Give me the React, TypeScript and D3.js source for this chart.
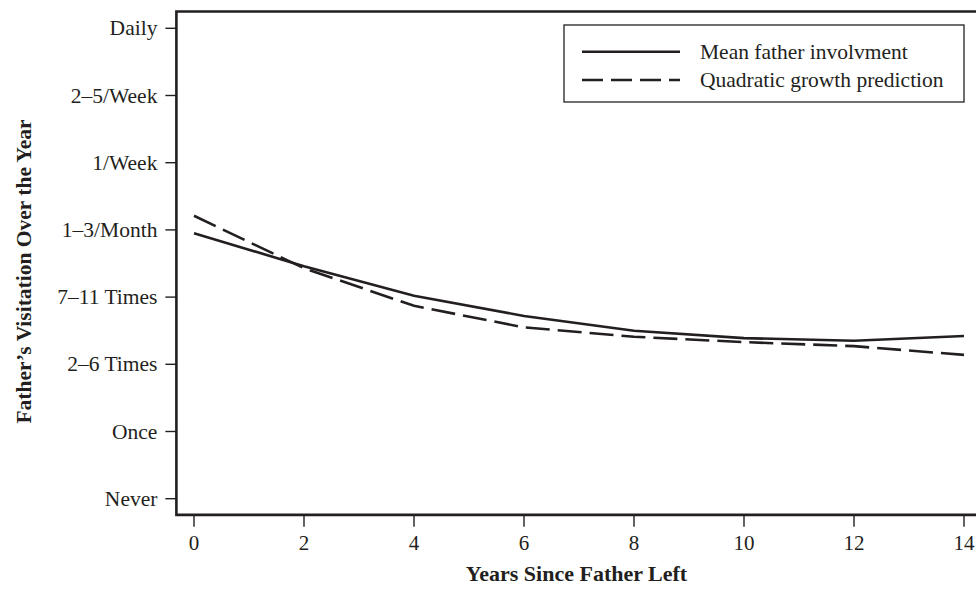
import React from "react";
import * as d3 from "d3";

// frequency categories, Never = 0 ... Daily = 7
const visitLabels = [
  "Never",
  "Once",
  "2–6 Times",
  "7–11 Times",
  "1–3/Month",
  "1/Week",
  "2–5/Week",
  "Daily",
];
const years = [0, 2, 4, 6, 8, 10, 12, 14];
const meanInvolvement = [3.95, 3.46, 3.02, 2.72, 2.5, 2.39, 2.35, 2.42];
const quadraticPrediction = [4.21, 3.43, 2.87, 2.55, 2.41, 2.33, 2.27, 2.14];
const xTicks = [0, 2, 4, 6, 8, 10, 12, 14];

const WIDTH = 976;
const HEIGHT = 589;
const INK = "#231f20";
const FONT = "'Liberation Serif', 'Times New Roman', serif";

export default function App() {
  const xScale = d3.scaleLinear().domain([0, 14]).range([194, 964]);
  const yScale = d3.scaleLinear().domain([0, 7]).range([498.7, 28.3]);

  const frameLeft = xScale(-0.32);
  const frameRight = xScale(14.6);
  const frameTop = yScale(7.25);
  const frameBottom = yScale(-0.24);

  const line = d3
    .line<number>()
    .x((_, i) => xScale(years[i]))
    .y((d) => yScale(d));

  const legendX = 564;
  const legendY = 25;
  const legendW = 400;
  const legendH = 77;
  const rows = [
    { label: "Mean father involvment", dash: undefined as string | undefined },
    { label: "Quadratic growth prediction", dash: "21 8" },
  ];

  return (
    <svg
      width={WIDTH}
      height={HEIGHT}
      style={{ position: "absolute", left: 0, top: 0, background: "#fff" }}
      fontFamily={FONT}
    >
      {/* frame */}
      <path
        d={`M${frameRight},${frameTop}H${frameLeft}V${frameBottom}H${frameRight}`}
        fill="none"
        stroke={INK}
        strokeWidth={2.6}
      />

      {/* y ticks */}
      {visitLabels.map((lab, i) => (
        <g key={lab} transform={`translate(0,${yScale(i)})`}>
          <line x1={frameLeft - 11} x2={frameLeft} stroke={INK} strokeWidth={1.4} />
          <text
            x={frameLeft - 19}
            dy="0.33em"
            textAnchor="end"
            fontSize={21.5}
            fill={INK}
          >
            {lab}
          </text>
        </g>
      ))}

      {/* x ticks */}
      {xTicks.map((t) => (
        <g key={t} transform={`translate(${xScale(t)},0)`}>
          <line y1={frameBottom} y2={frameBottom + 12} stroke={INK} strokeWidth={1.4} />
          <text y={549.5} textAnchor="middle" fontSize={21} fill={INK}>
            {t}
          </text>
        </g>
      ))}

      {/* series */}
      <path
        d={line(meanInvolvement) || ""}
        fill="none"
        stroke={INK}
        strokeWidth={2.6}
      />
      <path
        d={line(quadraticPrediction) || ""}
        fill="none"
        stroke={INK}
        strokeWidth={2.6}
        strokeDasharray="24 8"
      />

      {/* axis titles */}
      <text
        x={576.5}
        y={581}
        textAnchor="middle"
        fontSize={22}
        fontWeight="bold"
        fill={INK}
      >
        Years Since Father Left
      </text>
      <text
        transform="translate(31,271.5) rotate(-90)"
        textAnchor="middle"
        fontSize={21.5}
        fontWeight="bold"
        fill={INK}
      >
        Father’s Visitation Over the Year
      </text>

      {/* legend */}
      <rect
        x={legendX}
        y={legendY}
        width={legendW}
        height={legendH}
        fill="#fff"
        stroke={INK}
        strokeWidth={1.3}
      />
      {rows.map((r, i) => {
        const cy = legendY + 26.7 + i * 28.3;
        return (
          <g key={r.label}>
            <line
              x1={legendX + 18}
              x2={legendX + 116}
              y1={cy}
              y2={cy}
              stroke={INK}
              strokeWidth={2.6}
              strokeDasharray={r.dash}
            />
            <text x={legendX + 136} y={cy} dy="0.33em" fontSize={21.5} fill={INK}>
              {r.label}
            </text>
          </g>
        );
      })}
    </svg>
  );
}
